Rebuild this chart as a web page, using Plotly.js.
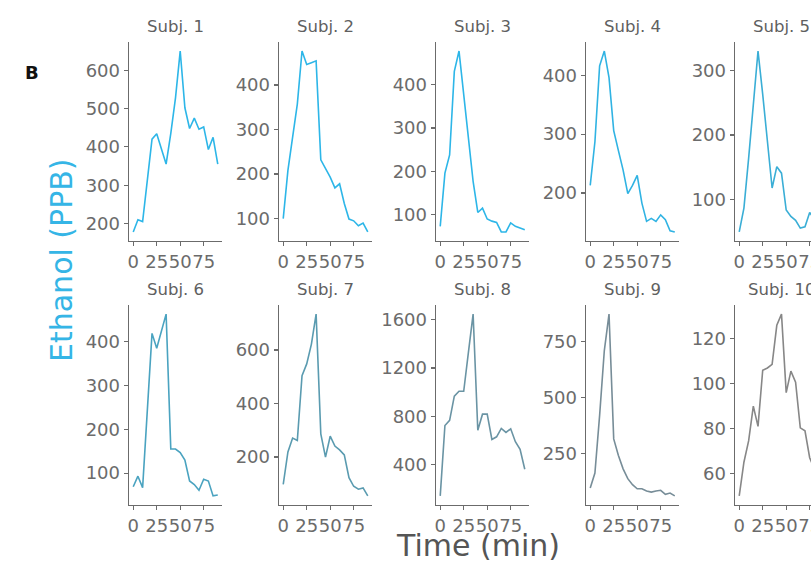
<!DOCTYPE html>
<html>
<head>
<meta charset="utf-8">
<script src="https://cdn.plot.ly/plotly-3.0.1.min.js"></script>
<style>
  html, body { margin: 0; padding: 0; overflow: hidden; background: #fff; }
  #chart { width: 840px; height: 561px; }
</style>
</head>
<body>
<div id="chart"></div>
<script>
// ---- data ----
const time = [0, 5, 10, 15, 20, 25, 30, 35, 40, 45, 50, 55, 60, 65, 70, 75, 80, 85, 90];
const subjects = ["Subj. 1", "Subj. 2", "Subj. 3", "Subj. 4", "Subj. 5",
                  "Subj. 6", "Subj. 7", "Subj. 8", "Subj. 9", "Subj. 10"];
const subj1  = [178, 210, 205, 310, 420, 434, 397, 355, 435, 528, 650, 502, 448, 475, 446, 452, 393, 425, 355];
const subj2  = [100, 208, 283, 357, 476, 446, 450, 454, 232, 212, 193, 169, 178, 134, 99, 95, 84, 90, 70];
const subj3  = [73, 196, 238, 431, 478, 373, 273, 177, 105, 115, 90, 85, 82, 60, 60, 81, 73, 69, 65];
const subj4  = [213, 287, 416, 441, 396, 306, 272, 239, 199, 213, 230, 183, 152, 157, 152, 163, 155, 136, 134];
const subj5  = [50, 87, 164, 252, 330, 263, 190, 118, 151, 141, 84, 74, 68, 56, 58, 80, 70, 65, 60];
const subj6  = [69, 93, 67, 243, 419, 385, 425, 463, 155, 155, 147, 130, 82, 74, 61, 86, 82, 48, 50];
const subj7  = [98, 219, 271, 262, 504, 548, 622, 734, 287, 200, 278, 241, 227, 208, 123, 91, 80, 85, 55];
const subj8  = [138, 723, 765, 966, 1007, 1007, 1330, 1648, 684, 817, 817, 607, 629, 698, 665, 695, 588, 524, 359];
const subj9  = [95, 162, 420, 710, 873, 315, 241, 181, 137, 110, 92, 92, 82, 77, 82, 85, 67, 73, 60];
const subj10 = [50, 65, 74.5, 90, 81, 106, 107, 108.6, 126, 131, 96, 105.6, 100.7, 80.3, 79, 67, 62, 58, 55];
const xTickVals = [0, 25, 50, 75];
const xTickText = ["0", "25", "50", "75"];
const yTickStep = [100, 100, 100, 100, 100, 100, 200, 400, 250, 20];

// ---- styles ----
const seriesValues = [subj1, subj2, subj3, subj4, subj5, subj6, subj7, subj8, subj9, subj10];
const lineColors = ["#2db6e8", "#2db6e8", "#2db6e8", "#30b3e3", "#3aaed6",
                    "#4aa3c0", "#5a9bb0", "#6a94a4", "#778d98", "#878787"];
const W = 840, H = 561;
const colPx = [[129, 222], [279, 372], [436, 529], [586, 679], [735, 828]];
const rowPx = [[42, 241], [305, 505]];
const tickColor = "#6b6b6b";
const FONT = "'DejaVu Sans', Lato, sans-serif";

function expand(arr) {
  const mn = Math.min(...arr), mx = Math.max(...arr);
  const pad = (mx - mn) * 0.05;
  return [mn - pad, mx + pad];
}

const traces = [];
const layout = {
  width: W, height: H,
  margin: {l: 0, r: 0, t: 0, b: 0},
  paper_bgcolor: "#fff", plot_bgcolor: "#fff",
  showlegend: false,
  font: {family: FONT, color: tickColor},
  annotations: []
};

seriesValues.forEach((vals, i) => {
  const r = Math.floor(i / 5), c = i % 5;
  const n = i + 1;
  const xa = n === 1 ? "x" : "x" + n;
  const ya = n === 1 ? "y" : "y" + n;
  traces.push({
    x: time, y: vals, type: "scatter", mode: "lines",
    xaxis: xa, yaxis: ya,
    line: {color: lineColors[i], width: 1.6},
    hoverinfo: "skip"
  });
  const xd = [colPx[c][0] / W, colPx[c][1] / W];
  const yd = [1 - rowPx[r][1] / H, 1 - rowPx[r][0] / H];
  const common = {
    showgrid: false, zeroline: false, showline: true,
    linecolor: tickColor, linewidth: 1.4,
    ticks: "outside", ticklen: 4, tickwidth: 1.2, tickcolor: tickColor,
    tickfont: {family: FONT, size: 18, color: tickColor},
    fixedrange: true
  };
  layout["xaxis" + (n === 1 ? "" : n)] = Object.assign({}, common, {
    domain: xd, anchor: ya,
    range: expand(time),
    tickmode: "array", tickvals: xTickVals, ticktext: xTickText,
    tickangle: 0
  });
  layout["yaxis" + (n === 1 ? "" : n)] = Object.assign({}, common, {
    domain: yd, anchor: xa,
    range: expand(vals),
    tickmode: "linear", tick0: 0, dtick: yTickStep[i]
  });
  layout.annotations.push({
    xref: "paper", yref: "paper",
    x: (colPx[c][0] + colPx[c][1]) / 2 / W,
    y: 1 - (rowPx[r][0] - 16) / H,
    text: subjects[i], showarrow: false,
    xanchor: "center", yanchor: "middle",
    font: {family: FONT, size: 16.5, color: "#606060"}
  });
});

layout.annotations.push({
  xref: "paper", yref: "paper", x: 62 / W, y: 1 - 260 / H,
  text: "Ethanol (PPB)", textangle: -90, showarrow: false,
  xanchor: "center", yanchor: "middle",
  font: {family: FONT, size: 30, color: "#35b5e6"}
});
layout.annotations.push({
  xref: "paper", yref: "paper", x: 478 / W, y: 1 - 545 / H,
  text: "Time (min)", showarrow: false,
  xanchor: "center", yanchor: "middle",
  font: {family: FONT, size: 30, color: "#555"}
});
layout.annotations.push({
  xref: "paper", yref: "paper", x: 32 / W, y: 1 - 72 / H,
  text: "<b>B</b>", showarrow: false,
  xanchor: "center", yanchor: "middle",
  font: {family: FONT, size: 18, color: "#111"}
});

Plotly.newPlot("chart", traces, layout, {staticPlot: true, displayModeBar: false});
</script>
</body>
</html>
